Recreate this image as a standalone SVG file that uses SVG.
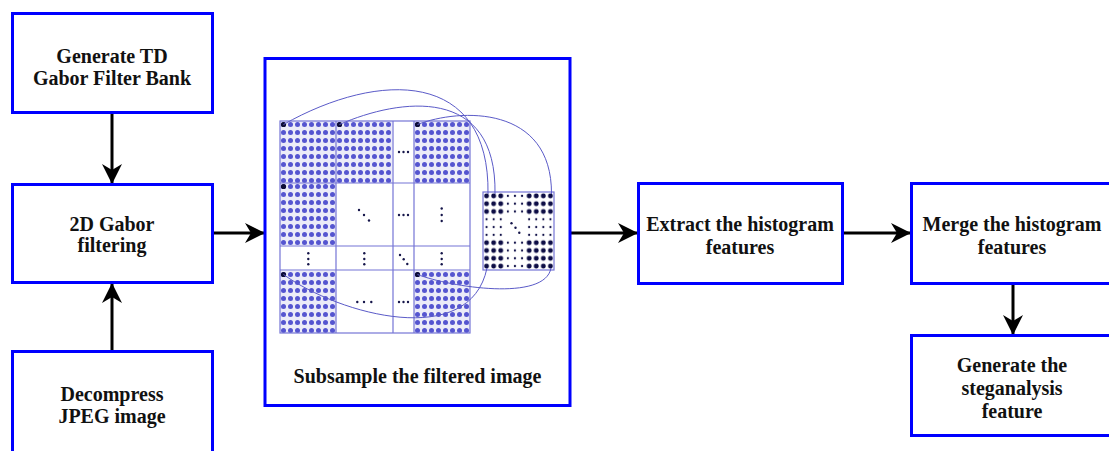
<svg xmlns="http://www.w3.org/2000/svg" width="1109" height="451" viewBox="0 0 1109 451">
  <style>
    .box { fill: #ffffff; stroke: #0000ff; stroke-width: 3; }
    .lbl { font-family: 'Liberation Serif', 'Times New Roman', serif; font-weight: bold; font-size: 20px; fill: #111111; text-anchor: middle; }
    .conn { stroke: #000000; stroke-width: 3; fill: none; marker-end: url(#arrow); }
    .grid { fill: none; stroke: #7575d6; stroke-width: 1.2; }
    .link { fill: none; stroke: #5a5ac8; stroke-width: 1; }
    .ell { fill: #15154a; }
  </style>
  <defs>
    <marker id="arrow" markerUnits="userSpaceOnUse" viewBox="0 0 20 20" refX="19" refY="10" markerWidth="20" markerHeight="20" orient="auto">
      <path d="M0,0 L20,10 L0,20 L6,10 Z" fill="#000000"/>
    </marker>
    <!-- 8x8 dot tile for a sub-band block -->
    <pattern id="blockDots" patternUnits="userSpaceOnUse" width="7" height="8">
      <rect width="7" height="8" fill="#ececf8"/>
      <circle cx="3.5" cy="3.5" r="2.5" fill="#5555d0"/>
    </pattern>
    <pattern id="bigDots" patternUnits="userSpaceOnUse" width="7.1" height="7.8">
      <circle cx="3.55" cy="3.9" r="2.4" fill="#0d0d45"/>
    </pattern>
    <pattern id="smallDots" patternUnits="userSpaceOnUse" width="7.1" height="7.8">
      <circle cx="3.55" cy="3.9" r="1.1" fill="#0d0d45"/>
    </pattern>
    <g id="block">
      <rect x="0" y="0" width="56" height="62" fill="url(#blockDots)"/>
      <circle cx="3.5" cy="3.5" r="2.6" fill="#0d0d35"/>
    </g>
  </defs>

  <!-- connectors -->
  <g id="connectors">
    <path class="conn" d="M112,114 L112,183"/>
    <path class="conn" d="M112,350 L112,284"/>
    <path class="conn" d="M214,233 L264,233"/>
    <path class="conn" d="M570,233 L637,233"/>
    <path class="conn" d="M843,233 L910,233"/>
    <path class="conn" d="M1013,283 L1013,334"/>
  </g>

  <g id="gen-filter-bank">
    <rect class="box" x="12.5" y="13.5" width="200" height="99"/>
    <text class="lbl" x="112" y="63">Generate TD</text>
    <text class="lbl" x="112" y="85">Gabor Filter Bank</text>
  </g>

  <g id="gabor-filtering">
    <rect class="box" x="12.5" y="184.5" width="200" height="98"/>
    <text class="lbl" x="112" y="231">2D Gabor</text>
    <text class="lbl" x="112" y="252">filtering</text>
  </g>

  <g id="decompress-jpeg">
    <rect class="box" x="12.5" y="351.5" width="200" height="110"/>
    <text class="lbl" x="112" y="401">Decompress</text>
    <text class="lbl" x="112" y="423">JPEG image</text>
  </g>

  <g id="subsample">
    <rect class="box" x="265" y="58.5" width="305" height="347"/>
    <!-- sub-band grid -->
    <rect x="280" y="121" width="190" height="212" fill="#ffffff"/>
    <use href="#block" x="280" y="121"/>
    <use href="#block" x="336" y="121"/>
    <use href="#block" x="414" y="121"/>
    <use href="#block" x="280" y="183"/>
    <use href="#block" x="280" y="271"/>
    <use href="#block" x="414" y="271"/>
    <g class="grid">
      <rect x="280" y="121" width="190" height="212"/>
      <path d="M336,121 V333 M393,121 V333 M414,121 V333 M280,183 H470 M280,246 H470 M280,270 H470"/>
    </g>
    <!-- ellipsis marks -->
    <g class="ell">
      <circle cx="399" cy="152" r="1.2"/><circle cx="403.5" cy="152" r="1.2"/><circle cx="408" cy="152" r="1.2"/>
      <circle cx="359" cy="210" r="1.2"/><circle cx="364" cy="215" r="1.2"/><circle cx="369" cy="220.5" r="1.2"/>
      <circle cx="399" cy="215" r="1.2"/><circle cx="403.5" cy="215" r="1.2"/><circle cx="408" cy="215" r="1.2"/>
      <circle cx="441.7" cy="208.5" r="1.2"/><circle cx="441.7" cy="215" r="1.2"/><circle cx="441.7" cy="221" r="1.2"/>
      <circle cx="308.3" cy="253.3" r="1.2"/><circle cx="308.3" cy="259" r="1.2"/><circle cx="308.3" cy="264.3" r="1.2"/>
      <circle cx="364.3" cy="253.3" r="1.2"/><circle cx="364.3" cy="259" r="1.2"/><circle cx="364.3" cy="264.3" r="1.2"/>
      <circle cx="400" cy="255" r="1.2"/><circle cx="403.7" cy="259.3" r="1.2"/><circle cx="407.3" cy="264" r="1.2"/>
      <circle cx="441.7" cy="253.3" r="1.2"/><circle cx="441.7" cy="259" r="1.2"/><circle cx="441.7" cy="264.3" r="1.2"/>
      <circle cx="357.3" cy="302" r="1.2"/><circle cx="364" cy="302" r="1.2"/><circle cx="371.3" cy="302" r="1.2"/>
      <circle cx="399" cy="302" r="1.2"/><circle cx="403.5" cy="302" r="1.2"/><circle cx="408" cy="302" r="1.2"/>
    </g>
    <!-- subsampled matrix -->
    <g transform="translate(483,192)">
      <rect x="0" y="0" width="71" height="78" fill="#ffffff"/>
      <rect x="0" y="0" width="21.3" height="23.4" fill="url(#bigDots)"/>
      <rect x="42.6" y="0" width="28.4" height="23.4" fill="url(#bigDots)"/>
      <rect x="0" y="46.8" width="21.3" height="31.2" fill="url(#bigDots)"/>
      <rect x="42.6" y="46.8" width="28.4" height="31.2" fill="url(#bigDots)"/>
      <rect x="21.3" y="0" width="21.3" height="23.4" fill="url(#smallDots)"/>
      <rect x="21.3" y="46.8" width="21.3" height="31.2" fill="url(#smallDots)"/>
      <rect x="0" y="23.4" width="21.3" height="23.4" fill="url(#smallDots)"/>
      <rect x="42.6" y="23.4" width="28.4" height="23.4" fill="url(#smallDots)"/>
      <g class="ell">
        <circle cx="28.5" cy="31.3" r="1.2"/><circle cx="32.5" cy="35.7" r="1.2"/><circle cx="36.3" cy="40.7" r="1.2"/>
      </g>
      <rect x="0" y="0" width="71" height="78" fill="none" stroke="#7575d6" stroke-width="1.2"/>
    </g>
    <!-- sampling links -->
    <g class="link">
      <path d="M283.5,124.5 C380,70 490,70 488,194"/>
      <path d="M339.5,124.5 C400,98 497,85 495,194"/>
      <path d="M417.5,124.5 C460,108 552,105 551.5,194"/>
      <path d="M283.5,274.5 C340,315 470,350 487,268"/>
      <path d="M417.5,274.5 C450,287 545,302 551,268"/>
    </g>
    <text class="lbl" x="417.5" y="383">Subsample the filtered image</text>
  </g>

  <g id="extract-hist">
    <rect class="box" x="638.5" y="183.5" width="204" height="100"/>
    <text class="lbl" x="740" y="231">Extract the histogram</text>
    <text class="lbl" x="740" y="254">features</text>
  </g>

  <g id="merge-hist">
    <rect class="box" x="911.5" y="183.5" width="205" height="100"/>
    <text class="lbl" x="1012" y="231">Merge the histogram</text>
    <text class="lbl" x="1012" y="254">features</text>
  </g>

  <g id="gen-feature">
    <rect class="box" x="911.5" y="335.5" width="205" height="100"/>
    <text class="lbl" x="1012" y="372">Generate the</text>
    <text class="lbl" x="1012" y="395">steganalysis</text>
    <text class="lbl" x="1012" y="418">feature</text>
  </g>
</svg>
